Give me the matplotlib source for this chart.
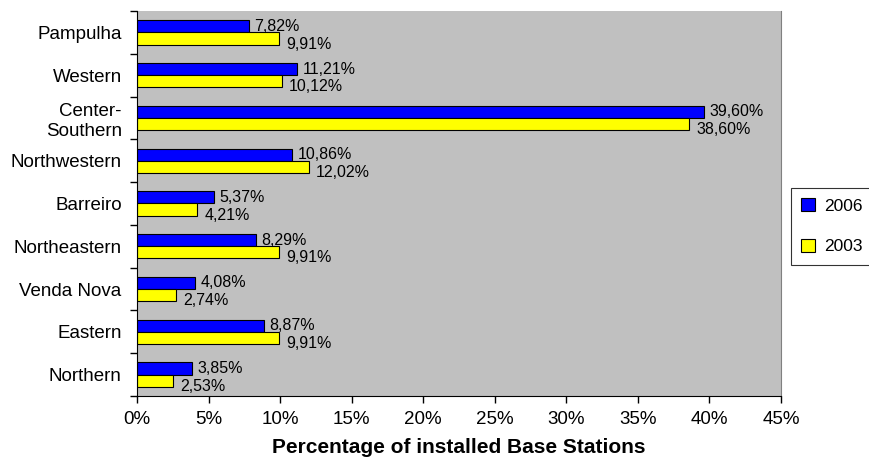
import numpy as np
import matplotlib
matplotlib.use("Agg")
import matplotlib.pyplot as plt
from matplotlib.ticker import FixedLocator

plt.rcParams["font.family"] = ["Liberation Sans", "DejaVu Sans"]

# dati (in %), dall'alto verso il basso
regions = ["Pampulha", "Western", "Center-\nSouthern", "Northwestern", "Barreiro",
           "Northeastern", "Venda Nova", "Eastern", "Northern"]
y2006 = [7.82, 11.21, 39.60, 10.86, 5.37, 8.29, 4.08, 8.87, 3.85]
y2003 = [9.91, 10.12, 38.60, 12.02, 4.21, 9.91, 2.74, 9.91, 2.53]
xticks = [0, 5, 10, 15, 20, 25, 30, 35, 40, 45]


def pct(v):
    return f"{v:.2f}%".replace(".", ",")


fig = plt.figure(figsize=(8.7, 4.57), dpi=100)
ax = fig.add_axes([0.1575, 0.1335, 0.7402, 0.8425])
ax.set_facecolor("#C0C0C0")

y = np.arange(len(regions))
h = 0.285
b1 = ax.barh(y - h / 2, y2006, height=h, color="#0000FF", edgecolor="black", lw=0.8, label="2006")
b2 = ax.barh(y + h / 2, y2003, height=h, color="#FFFF00", edgecolor="black", lw=0.8, label="2003")

for yi, v in zip(y, y2006):
    ax.annotate(pct(v), (v, yi - h / 2), xytext=(4, 0), textcoords="offset points",
                va="center", ha="left", fontsize=11.5)
for yi, v in zip(y, y2003):
    ax.annotate(pct(v), (v, yi + h / 2), xytext=(5, -4), textcoords="offset points",
                va="center", ha="left", fontsize=11.5)

ax.set_ylim(len(regions) - 0.5, -0.5)
ax.set_xlim(0, 45)
ax.set_yticks(y)
ax.set_yticklabels(regions, fontsize=13.5)
ax.yaxis.set_minor_locator(FixedLocator(np.arange(len(regions) + 1) - 0.5))
ax.tick_params(axis="y", which="major", length=0, pad=11)
ax.tick_params(axis="y", which="minor", length=5, width=1, color="black")
ax.set_xticks(xticks)
ax.set_xticklabels([f"{t}%" for t in xticks], fontsize=13.5)
ax.tick_params(axis="x", length=5, width=1, pad=6)

ax.spines["left"].set_color("black")
ax.spines["bottom"].set_color("black")
ax.spines["right"].set_color("#808080")
ax.spines["top"].set_visible(False)

ax.set_xlabel("Percentage of installed Base Stations", fontsize=15, fontweight="bold", labelpad=7)

leg = fig.legend(handles=[b1, b2], loc="center left", bbox_to_anchor=(0.909, 0.505),
                 borderaxespad=0, fontsize=12.5, frameon=True, fancybox=False, edgecolor="black",
                 handlelength=0.8, handleheight=0.8, labelspacing=1.45, borderpad=0.6,
                 handletextpad=0.5)
leg.get_frame().set_linewidth(0.8)

fig.savefig("out.png", dpi=100)
